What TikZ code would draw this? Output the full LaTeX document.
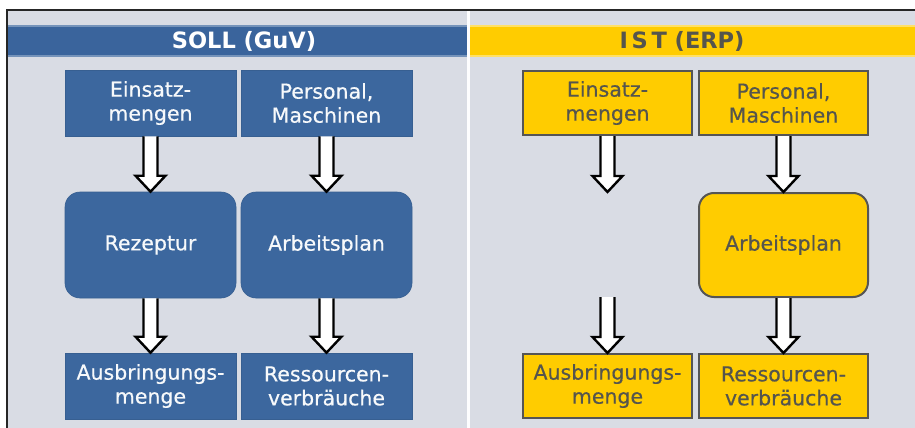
\documentclass[tikz,border=0pt]{standalone}
\usepackage{fontspec}
\setmainfont{DejaVu Sans}
\newfontfamily\boxfont[FakeBold=0.5]{DejaVu Sans}
\usetikzlibrary{calc}
\definecolor{bgray}{HTML}{D9DCE4}
\definecolor{sblue}{HTML}{3C679E}
\definecolor{hblue}{HTML}{3A649C}
\definecolor{iyel}{HTML}{FFCC00}
\definecolor{ytext}{HTML}{55554D}
\definecolor{yborder}{HTML}{555555}
\tikzset{
  bluebox/.style={fill=sblue, draw=sblue!92!black, line width=0.6pt, text=white!96!sblue, align=center,
    minimum width=171pt, minimum height=66pt, inner sep=0pt, font=\boxfont\fontsize{20.5}{24}\selectfont},
  yelbox/.style={fill=iyel, draw=yborder, line width=2pt, text=ytext, align=center,
    minimum width=169pt, minimum height=64pt, inner sep=0pt, font=\boxfont\fontsize{20.5}{24}\selectfont},
  bigbox/.style={minimum height=106pt, rounded corners=15pt},
  headtext/.style={font=\fontsize{22.5}{26}\bfseries\selectfont},
  fatfill/.style={fill=white},
  fatline/.style={draw=black, line width=2.4pt, line join=miter},
}
\newcommand\fatarrow[2]{%
  \fill[fatfill] let \p1=(#1), \p2=(#2) in
    (\x1-7pt,\y1) -- (\x1-7pt,\y2+16pt) -- (\x1-15pt,\y2+16pt) -- (\x1,\y2)
    -- (\x1+15pt,\y2+16pt) -- (\x1+7pt,\y2+16pt) -- (\x1+7pt,\y1) -- cycle;
  \draw[fatline] let \p1=(#1), \p2=(#2) in
    (\x1-7pt,\y1) -- (\x1-7pt,\y2+16pt) -- (\x1-15pt,\y2+16pt) -- (\x1,\y2)
    -- (\x1+15pt,\y2+16pt) -- (\x1+7pt,\y2+16pt) -- (\x1+7pt,\y1);
}
\begin{document}
\begin{tikzpicture}[x=1pt,y=-1pt]
\useasboundingbox (0,0) rectangle (915,428);
\fill[white] (0,0) rectangle (915,428);
\fill[bgray] (7,10) rectangle (915,428);
\draw[black!85, line width=1.5pt] (915,10) -- (7,10) -- (7,428);
% header bars
\fill[hblue] (8,25) rectangle (467,57);
\fill[hblue!70!white] (8,25) rectangle (467,27);
\fill[hblue!70!white] (8,55) rectangle (467,57);
\fill[iyel] (470,25) rectangle (915,57);
\fill[iyel!60!white] (470,25) rectangle (915,27);
\fill[iyel!60!white] (470,55) rectangle (915,57);
\draw[white!95!bgray, line width=3pt] (468.5,11) -- (468.5,428);
\node[headtext, text=white] (hsoll) at (244,41) {SOLL (GuV)};
\node[headtext, text=ytext] (hist) at (682,41) {I\,S\,T (ERP)};
% left panel
\node[bluebox] (le) at (150.5,103) {Einsatz-\\mengen};
\node[bluebox] (lp) at (326.5,103) {Personal,\\Maschinen};
\node[bluebox, bigbox] (lr) at (150.5,245) {Rezeptur};
\node[bluebox, bigbox] (la) at (326.5,245) {Arbeitsplan};
\node[bluebox] (lb) at (150.5,386) {Ausbringungs-\\menge};
\node[bluebox] (lv) at (326.5,386) {Ressourcen-\\verbräuche};
% right panel
\node[yelbox] (re) at (607.5,103) {Einsatz-\\mengen};
\node[yelbox] (rp) at (783.5,103) {Personal,\\Maschinen};
\node[yelbox, bigbox, minimum height=104pt] (ra) at (783.5,245) {Arbeitsplan};
\node[yelbox] (rb) at (607.5,386) {Ausbringungs-\\menge};
\node[yelbox] (rv) at (783.5,386) {Ressourcen-\\verbräuche};
\coordinate (rt1) at (607.5,192);
\coordinate (rt2) at (607.5,297);
% arrows
\fatarrow{le.south}{lr.north}
\fatarrow{lp.south}{la.north}
\fatarrow{lr.south}{lb.north}
\fatarrow{la.south}{lv.north}
\fatarrow{re.south}{rt1}
\fatarrow{rp.south}{ra.north}
\fatarrow{rt2}{rb.north}
\fatarrow{ra.south}{rv.north}
\end{tikzpicture}
\end{document}
